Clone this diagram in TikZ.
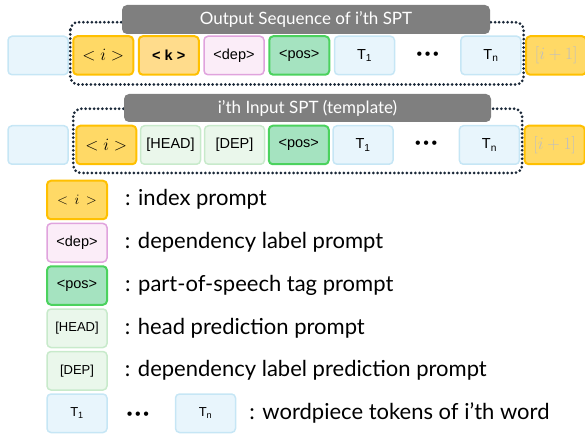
\documentclass[tikz,border=0pt]{standalone}
\usepackage{fontspec}
\setmainfont{Lato}
\newfontfamily\arialfont{Liberation Sans}
\usetikzlibrary{positioning}

\definecolor{idxfill}{HTML}{FFD966}
\definecolor{kfill}{HTML}{FFDC8C}
\definecolor{idxline}{HTML}{FFC000}
\definecolor{depfill}{HTML}{FBEDF8}
\definecolor{depline}{HTML}{E0A3DD}
\definecolor{posfill}{HTML}{A5E3C0}
\definecolor{posline}{HTML}{4BD25E}
\definecolor{predfill}{HTML}{EAF7EB}
\definecolor{predline}{HTML}{C8EACB}
\definecolor{wpfill}{HTML}{E8F5FC}
\definecolor{wpline}{HTML}{C6E6F5}
\definecolor{bannergray}{HTML}{7F7F7F}
\definecolor{dotline}{HTML}{1A2838}
\definecolor{nextgray}{HTML}{BFBFBF}

\tikzset{
  tok/.style={draw, rounded corners=4pt, line width=1.5pt, inner sep=0pt,
    minimum width=60pt, minimum height=38.5pt,
    font=\arialfont\fontsize{14.5}{14.5}\selectfont},
  legsmall/.style={font=\arialfont\fontsize{13}{13}\selectfont},
  mathtok/.style={font=\fontsize{19}{19}\selectfont},
  idxbox/.style={tok, fill=idxfill, draw=idxline, line width=2pt},
  kbox/.style={tok, fill=kfill, draw=idxline, line width=2pt},
  depbox/.style={tok, fill=depfill, draw=depline},
  posbox/.style={tok, fill=posfill, draw=posline, line width=2pt},
  predbox/.style={tok, fill=predfill, draw=predline},
  wpbox/.style={tok, fill=wpfill, draw=wpline},
  banner/.style={fill=bannergray, rounded corners=5pt, text=white,
    inner sep=0pt, font=\fontsize{17}{17}\selectfont},
  spt/.style={draw=dotline, line width=3pt, line cap=round,
    dash pattern=on 0pt off 4.2pt, rounded corners=8pt},
  desc/.style={anchor=base west, inner sep=0pt, font=\fontsize{22}{22}\selectfont},
  tokdots/.style={inner sep=0pt, font=\arialfont\fontsize{16}{16}\selectfont},
}

\begin{document}
\begin{tikzpicture}[x=1pt, y=-1pt, node distance=3.5pt]
  \clip (0,0) rectangle (585,435);

  % output sequence
  \node[wpbox] (o0) at (38,55.5) {};
  \node[idxbox, mathtok, right=of o0] (o1) {$<i>$};
  \node[kbox, right=of o1] (o2) {\bfseries < k >};
  \node[depbox, right=of o2] (o3) {<dep>};
  \node[posbox, right=of o3] (o4) {<pos>};
  \node[wpbox, right=of o4] (o5) {T\textsubscript{1}};
  \node[tokdots, right=0pt of o5, minimum width=64.5pt] (od) {\textbullet\,\textbullet\,\textbullet};
  \node[wpbox, right=0pt of od] (o6) {T\textsubscript{n}};
  \node[idxbox, mathtok, right=of o6] (o7) {\color{nextgray}$[i+1]$};

  % input template
  \node[wpbox] (t0) at (38,145) {};
  \node[idxbox, mathtok, right=6.5pt of t0] (t1) {$<i>$};
  \node[predbox, right=2.5pt of t1] (t2) {[HEAD]};
  \node[predbox, right=2.5pt of t2] (t3) {[DEP]};
  \node[posbox, right=2.5pt of t3] (t4) {<pos>};
  \node[wpbox, right=2.5pt of t4] (t5) {T\textsubscript{1}};
  \node[tokdots, right=0pt of t5, minimum width=64.5pt] (td) {\textbullet\,\textbullet\,\textbullet};
  \node[wpbox, right=0pt of td] (t6) {T\textsubscript{n}};
  \node[idxbox, mathtok, right=of t6] (t7) {\color{nextgray}$[i+1]$};

  % SPT frames and titles
  \draw[spt] ([xshift=-2pt,yshift=13pt]o1.north west) rectangle ([xshift=2pt,yshift=-9pt]o6.south east);
  \draw[spt] ([xshift=-2pt,yshift=16pt]t1.north west) rectangle ([xshift=2pt,yshift=-8pt]t6.south east);
  \node[banner, minimum width=368pt, minimum height=29pt] (ob) at (306,19.5) {Output Sequence of i’th SPT};
  \node[banner, minimum width=367pt, minimum height=28pt] (tb) at (307.5,108) {i’th Input SPT (template)};

  % legend
  \node[idxbox, font=\fontsize{15}{15}\selectfont] (l1) at (77,200) {$<\,i\,>$};
  \node[depbox, below=2.5pt of l1] (l2) {<dep>};
  \node[posbox, below=2.5pt of l2] (l3) {<pos>};
  \node[predbox, legsmall, below=2.5pt of l3] (l4) {[HEAD]};
  \node[predbox, legsmall, below=2.5pt of l4] (l5) {[DEP]};
  \node[wpbox, legsmall, below=2.5pt of l5] (l6) {T\textsubscript{1}};
  \node[tokdots] (ld) at (138,416) {\textbullet\,\textbullet\,\textbullet};
  \node[wpbox, legsmall, right=67pt of l6] (l7) {T\textsubscript{n}};

  \node[desc] (d1) at ([xshift=17pt,yshift=-6pt]l1.east) {: index prompt};
  \node[desc] (d2) at ([xshift=17pt,yshift=-6pt]l2.east) {: dependency label prompt};
  \node[desc] (d3) at ([xshift=17pt,yshift=-6pt]l3.east) {: part-of-speech tag prompt};
  \node[desc] (d4) at ([xshift=17pt,yshift=-6pt]l4.east) {: head prediction prompt};
  \node[desc] (d5) at ([xshift=17pt,yshift=-6pt]l5.east) {: dependency label prediction prompt};
  \node[desc] (d6) at ([xshift=13pt,yshift=-6pt]l7.east) {: wordpiece tokens of i’th word};
\end{tikzpicture}
\end{document}
